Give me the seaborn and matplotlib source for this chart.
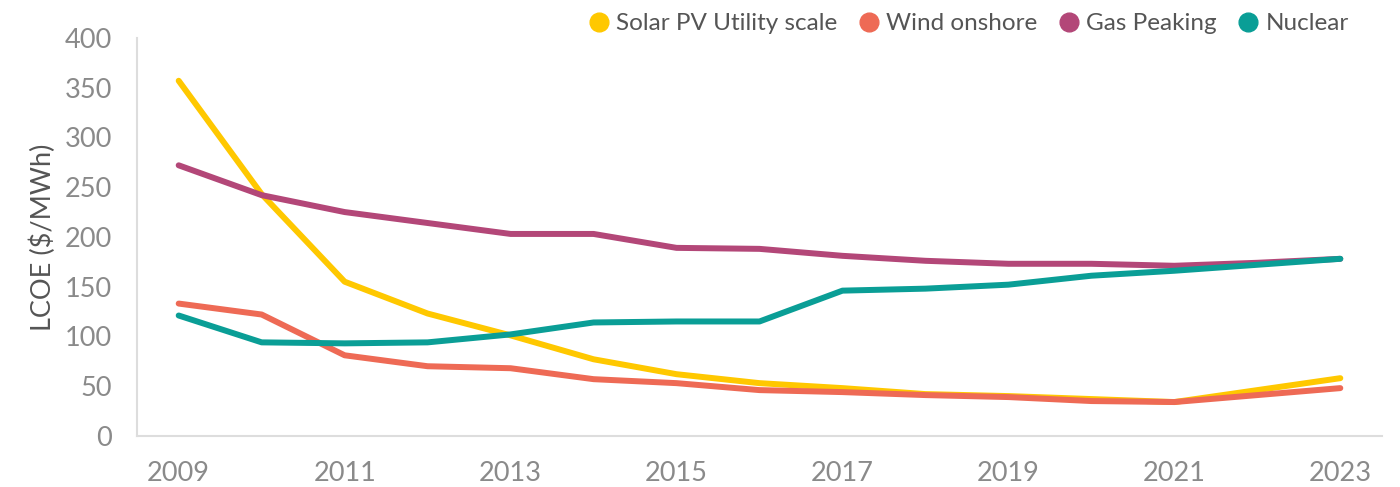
import matplotlib
matplotlib.use("Agg")
import matplotlib.pyplot as plt
from matplotlib.lines import Line2D
import seaborn as sns
import pandas as pd

years = list(range(2009, 2024))
solar = [357, 243, 155, 123, 101, 77, 62, 53, 48, 42, 40, 37, 34, 46, 58]
wind = [133, 122, 81, 70, 68, 57, 53, 46, 44, 41, 39, 35, 34, 41, 48]
gas = [272, 242, 225, 214, 203, 203, 189, 188, 181, 176, 173, 173, 171, 174, 178]
nuclear = [121, 94, 93, 94, 102, 114, 115, 115, 146, 148, 152, 161, 166, 172, 178]

series_names = ["Solar PV Utility scale", "Wind onshore", "Gas Peaking", "Nuclear"]
colors = ["#FFC800", "#EE6A55", "#B34778", "#0A9E96"]
xticks = [2009, 2011, 2013, 2015, 2017, 2019, 2021, 2023]
yticks = [0, 50, 100, 150, 200, 250, 300, 350, 400]

df = pd.DataFrame({"Year": years * 4,
                   "Value": solar + wind + gas + nuclear,
                   "Series": sum([[n] * len(years) for n in series_names], [])})

sns.set_theme(style="white")
plt.rcParams["font.family"] = ["Lato", "DejaVu Sans"]

fig = plt.figure(figsize=(14, 4.87), dpi=100)
ax = fig.add_axes([0.098, 0.105, 0.889, 0.817])

sns.lineplot(data=df, x="Year", y="Value", hue="Series", palette=dict(zip(series_names, colors)),
             linewidth=4.3, ax=ax, legend=False, solid_capstyle="round", solid_joinstyle="round")

ax.set_xlim(2008.5, 2023.5)
ax.set_ylim(0, 400)
ax.set_xticks(xticks)
ax.set_xticklabels([str(x) for x in xticks])
ax.set_yticks(yticks)
ax.tick_params(axis="both", length=0, labelsize=19.5, labelcolor="#8a8a8a")
ax.tick_params(axis="x", pad=18)
ax.tick_params(axis="y", pad=18)
ax.set_xlabel("")
ax.set_ylabel("LCOE ($/MWh)", fontsize=19.5, color="#555555", labelpad=6)

for s in ["top", "right"]:
    ax.spines[s].set_visible(False)
for s in ["left", "bottom"]:
    ax.spines[s].set_color("#dddddd")
    ax.spines[s].set_linewidth(1.5)

handles = [Line2D([0], [0], marker="o", color="none", markerfacecolor=c, markeredgecolor=c,
                  markersize=13.5) for c in colors]
leg = fig.legend(handles, series_names, loc="center right", bbox_to_anchor=(0.972, 0.951), ncol=4,
                 frameon=False, fontsize=17.5, handletextpad=0.3, columnspacing=0.9,
                 handlelength=0.8, labelcolor="#555555", borderpad=0)

fig.savefig("out.png", dpi=100, facecolor="white")
